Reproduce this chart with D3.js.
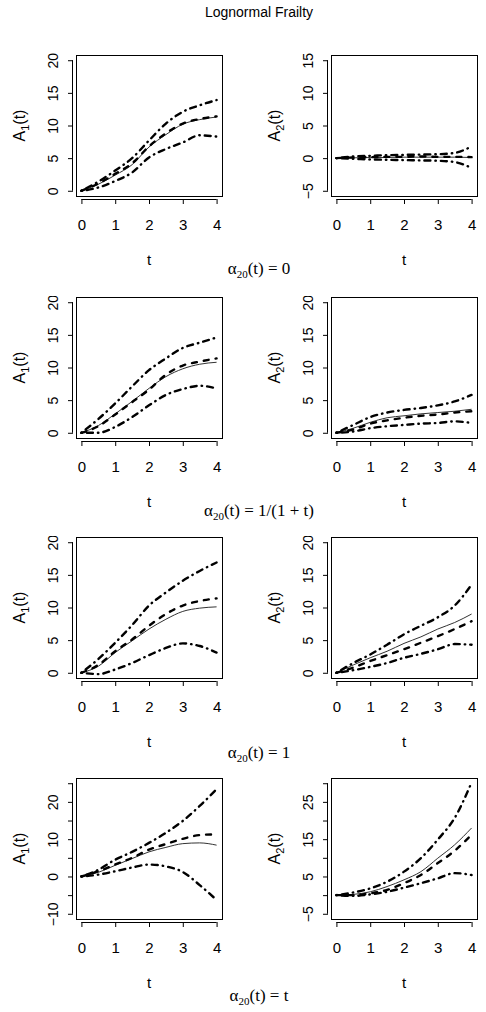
<!DOCTYPE html>
<html>
<head>
<meta charset="utf-8">
<script src="https://cdn.jsdelivr.net/npm/d3@7"></script>
<style>
  body { margin: 0; background: #fff; }
  svg { display: block; }
</style>
</head>
<body>
<div id="wrapper"></div>
<script>
// time grid the curves were read at
const tValues = [0, 0.5, 1, 1.5, 2, 2.5, 3, 3.5, 4]
const xTicks = [0, 1, 2, 3, 4]

const chartTitle = "Lognormal Frailty"
// text after "α20(t) = " under each row
const captionRhs = ["0", "1/(1 + t)", "1", "t"]

// y limits per panel (row by row, A1 then A2)
const yLimits = [[0, 20], [-5, 15], [0, 20], [0, 20], [0, 20], [0, 20], [-10, 25], [-5, 30]]

// each panel: [estimate (solid), dashed, upper dot-dash, lower dot-dash]
const A1_zero = [
  [0, 1.0, 2.4, 4.0, 6.7, 8.6, 10.2, 10.9, 11.3],
  [0, 1.1, 2.6, 4.2, 6.8, 8.8, 10.3, 11.0, 11.4],
  [0, 1.4, 3.1, 5.0, 7.7, 10.3, 12.1, 13.1, 13.9],
  [0, 0.5, 1.5, 2.8, 5.1, 6.4, 7.4, 8.5, 8.3]
]
const A2_zero = [
  [0, 0.05, 0.1, 0.1, 0.15, 0.15, 0.15, 0.15, 0.1],
  [0, 0.1, 0.15, 0.2, 0.2, 0.25, 0.2, 0.2, 0.15],
  [0, 0.25, 0.35, 0.45, 0.5, 0.55, 0.6, 0.8, 1.8],
  [0, -0.1, -0.2, -0.25, -0.3, -0.35, -0.4, -0.6, -1.5]
]
const A1_inv = [
  [0, 1.1, 2.9, 4.8, 6.8, 8.6, 9.8, 10.5, 10.8],
  [0, 1.0, 2.8, 4.7, 6.6, 8.9, 10.3, 10.9, 11.4],
  [0, 2.1, 4.5, 7.1, 9.6, 11.4, 13.0, 13.8, 14.6],
  [0, 0.0, 0.9, 2.4, 4.2, 5.8, 6.7, 7.2, 6.8]
]
const A2_inv = [
  [0, 0.7, 1.6, 2.3, 2.6, 2.9, 3.1, 3.3, 3.6],
  [0, 0.5, 1.4, 1.9, 2.3, 2.6, 2.8, 3.1, 3.3],
  [0, 1.2, 2.4, 3.1, 3.5, 3.8, 4.2, 4.8, 5.8],
  [0, 0.2, 0.7, 1.0, 1.2, 1.4, 1.5, 1.75, 1.5]
]
const A1_one = [
  [0, 1.0, 3.1, 4.9, 6.7, 8.2, 9.4, 9.9, 10.1],
  [0, 1.2, 3.3, 5.1, 7.2, 9.0, 10.3, 11.0, 11.4],
  [0, 2.1, 4.6, 7.3, 10.3, 12.3, 14.1, 15.6, 16.9],
  [0, -0.2, 0.5, 1.5, 2.7, 3.8, 4.5, 4.1, 3.1]
]
const A2_one = [
  [0, 1.2, 2.3, 3.3, 4.5, 5.5, 6.7, 7.7, 9.0],
  [0, 0.8, 1.8, 2.7, 3.6, 4.6, 5.6, 6.7, 7.9],
  [0, 1.5, 2.8, 4.3, 5.9, 7.2, 8.5, 10.3, 13.5],
  [0, 0.4, 0.9, 1.5, 2.3, 2.9, 3.6, 4.4, 4.3]
]
const A1_t = [
  [0, 1.1, 3.0, 4.8, 6.6, 7.8, 8.8, 9.0, 8.4],
  [0, 1.4, 3.2, 5.0, 7.2, 8.7, 10.1, 11.1, 11.3],
  [0, 1.8, 4.5, 6.6, 9.0, 11.7, 14.9, 18.9, 23.4],
  [0, 0.5, 1.4, 2.4, 3.2, 2.7, 1.2, -2.3, -6.3]
]
const A2_t = [
  [0, 0.2, 0.9, 2.3, 4.1, 6.3, 9.9, 13.5, 18.0],
  [0, 0.0, 0.5, 1.4, 3.2, 5.4, 8.6, 11.9, 16.2],
  [0, 0.7, 1.8, 3.6, 6.3, 9.9, 14.9, 20.7, 30.2],
  [0, -0.2, 0.2, 0.9, 2.0, 3.2, 4.5, 5.9, 5.4]
]

const panelData = [A1_zero, A2_zero, A1_inv, A2_inv, A1_one, A2_one, A1_t, A2_t]

function drawFrailtyChart() {
  let width = 486
  let height = 1012
  let boxLeft = [76, 331]
  let boxTop = [55, 297, 537, 778]
  let boxW = 146
  let boxH = 141
  let captionY = [274, 516, 758, 1001]
  let centerX = 259

  let svg = d3.select("#wrapper")
    .append("svg")
    .attr("width", width)
    .attr("height", height)

  // title
  svg.append("text")
    .attr("x", centerX)
    .attr("y", 17)
    .attr("text-anchor", "middle")
    .style("font-family", "Liberation Sans, Arial, sans-serif")
    .style("font-size", "14px")
    .text(chartTitle)

  let lineStyles = [
    { width: 1, dash: null, color: "#333" },
    { width: 2.4, dash: "5,7", color: "#000" },
    { width: 2.4, dash: "0.5,5,6,5", color: "#000" },
    { width: 2.4, dash: "0.5,5,6,5", color: "#000" }
  ]

  panelData.forEach(function(series, i) {
    let row = Math.floor(i / 2)
    let col = i % 2
    let left = boxLeft[col]
    let top = boxTop[row]
    let lim = yLimits[i]

    let xPad = (4 - 0) * 0.04
    let x = d3.scaleLinear()
      .domain([0 - xPad, 4 + xPad])
      .range([left, left + boxW])
    let yPad = (lim[1] - lim[0]) * 0.04
    let y = d3.scaleLinear()
      .domain([lim[0] - yPad, lim[1] + yPad])
      .range([top + boxH, top])

    // the figure region cuts off the top tick label in rows below the first
    let clipId = "clip" + i
    svg.append("clipPath").attr("id", clipId)
      .append("rect")
      .attr("x", 0)
      .attr("y", row == 0 ? 0 : top - 1)
      .attr("width", width)
      .attr("height", height)

    let g = svg.append("g")
      .attr("clip-path", "url(#" + clipId + ")")

    // curves
    let line = d3.line()
      .x(function(d, k) { return x(tValues[k]) })
      .y(function(d) { return y(d) })
      .curve(d3.curveMonotoneX)

    series.forEach(function(vals, s) {
      let st = lineStyles[s]
      g.append("path")
        .attr("d", line(vals))
        .attr("fill", "none")
        .attr("stroke", st.color)
        .attr("stroke-width", st.width)
        .attr("stroke-linecap", st.dash ? "round" : "butt")
        .attr("stroke-dasharray", st.dash)
    })

    // box
    g.append("rect")
      .attr("x", left + 0.5)
      .attr("y", top + 0.5)
      .attr("width", boxW)
      .attr("height", boxH)
      .attr("fill", "none")
      .attr("stroke", "#000")
      .attr("stroke-width", 1)

    // x axis
    let xAxisY = top + boxH + 3
    let xAxis = g.append("g")
      .attr("transform", "translate(0," + xAxisY + ")")
      .call(d3.axisBottom(x).tickValues(xTicks).tickSize(5).tickSizeOuter(0).tickFormat(d3.format("d")))
    xAxis.select(".domain").remove()
    xAxis.append("line")
      .attr("x1", x(xTicks[0])).attr("x2", x(xTicks[xTicks.length - 1]))
      .attr("y1", 0.5).attr("y2", 0.5)
      .attr("stroke", "#000")
    xAxis.selectAll(".tick line").attr("stroke", "#000")
    xAxis.selectAll("text")
      .attr("y", 26)
      .attr("dy", "0.36em")
      .attr("fill", "#000")
      .style("font-family", "Liberation Sans, Arial, sans-serif")
      .style("font-size", "15px")

    // y axis
    let yTicks = d3.range(lim[0], lim[1] + 0.001, 5)
    let yAxisX = left - 3
    let yAxis = g.append("g")
      .attr("transform", "translate(" + yAxisX + ",0)")
      .call(d3.axisLeft(y).tickValues(yTicks).tickSize(5).tickSizeOuter(0).tickFormat(d3.format("d")))
    yAxis.select(".domain").remove()
    yAxis.append("line")
      .attr("y1", y(yTicks[0])).attr("y2", y(yTicks[yTicks.length - 1]))
      .attr("x1", -0.5).attr("x2", -0.5)
      .attr("stroke", "#000")
    yAxis.selectAll(".tick line").attr("stroke", "#000")
    let labels = yAxis.selectAll("text")
      .attr("x", null)
      .attr("dy", null)
      .attr("text-anchor", "middle")
      .attr("transform", "translate(-15.5,0) rotate(-90)")
      .attr("fill", "#000")
      .style("font-family", "Liberation Sans, Arial, sans-serif")
      .style("font-size", "14px")

    // skip labels that would overlap the previous one drawn (like R does)
    let fs = 14
    let lastEdge = -Infinity
    labels.each(function(d) {
      let len = this.getComputedTextLength()
      let c = -y(d)
      if (c - len / 2 < lastEdge + fs * 0.8) {
        d3.select(this).remove()
      } else {
        lastEdge = c + len / 2
      }
    })

    // x label
    g.append("text")
      .attr("x", left + boxW / 2)
      .attr("y", top + boxH + 64)
      .attr("dy", "0.35em")
      .attr("text-anchor", "middle")
      .style("font-family", "Liberation Sans, Arial, sans-serif")
      .style("font-size", "15px")
      .text("t")

    // y label A_k(t)
    let yl = g.append("text")
      .attr("transform", "translate(" + (left - 51) + "," + (top + boxH / 2) + ") rotate(-90)")
      .attr("text-anchor", "middle")
      .style("font-family", "Liberation Sans, Arial, sans-serif")
      .style("font-size", "16px")
    yl.append("tspan").text("A")
    yl.append("tspan").attr("dy", 4).style("font-size", "11px").text(col + 1)
    yl.append("tspan").attr("dy", -4).text("(t)")
  })

  // captions under each row
  captionRhs.forEach(function(rhs, r) {
    let cap = svg.append("text")
      .attr("x", centerX)
      .attr("y", captionY[r])
      .attr("text-anchor", "middle")
      .style("font-family", "Liberation Serif, Times New Roman, serif")
      .style("font-size", "17px")
    cap.append("tspan").text("α")
    cap.append("tspan").attr("dy", 4).style("font-size", "11px").text("20")
    cap.append("tspan").attr("dy", -4).text("(t) = " + rhs)
  })
}

drawFrailtyChart()
</script>
</body>
</html>
